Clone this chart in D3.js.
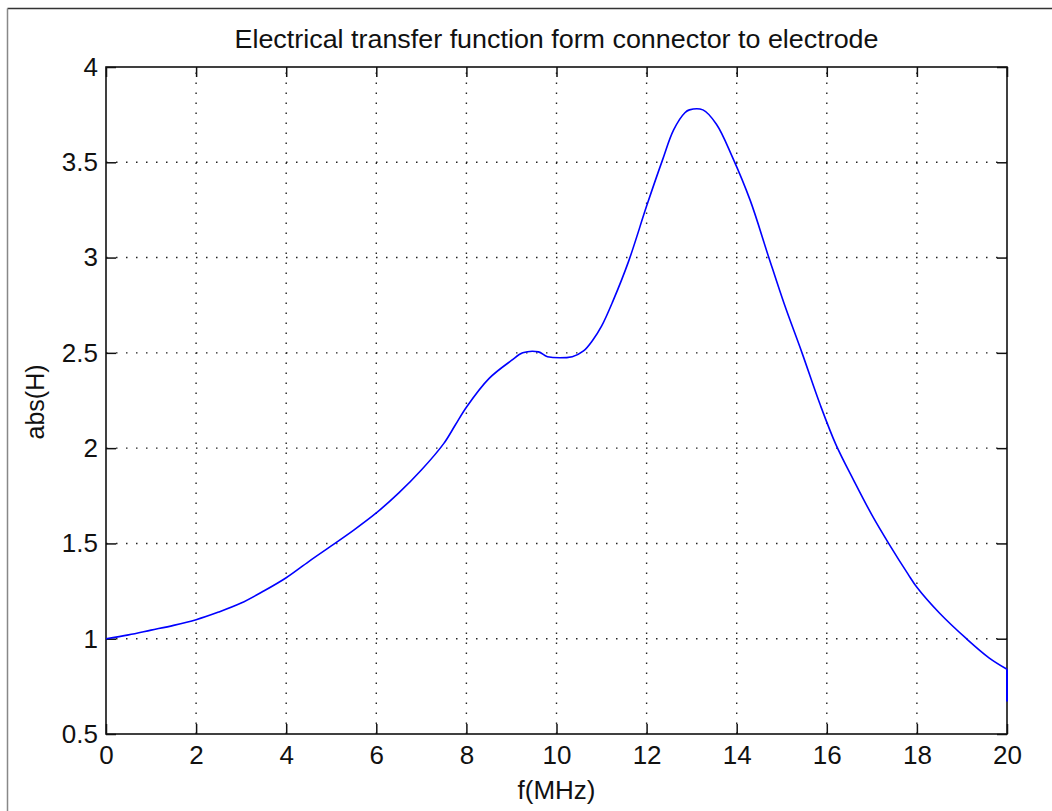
<!DOCTYPE html>
<html>
<head>
<meta charset="utf-8">
<script src="https://cdn.jsdelivr.net/npm/d3@7"></script>
<style>
  html, body { margin: 0; padding: 0; background: #fff; }
  svg { display: block; }
  text { font-family: "Liberation Sans", Arial, Helvetica, sans-serif; fill: #111; }
</style>
</head>
<body>
<svg id="chart" width="1052" height="811"></svg>
<script>
// Frequency sweep (MHz) and magnitude of the transfer function
const freqMHz = [0, 0.5, 1, 1.5, 2, 2.5, 3, 3.5, 4, 4.5, 5, 5.5, 6, 6.5, 7, 7.5, 7.75, 8, 8.5, 9,
  9.25, 9.6, 9.8, 10.35, 10.6, 10.8, 11, 11.25, 11.6, 12, 12.35, 12.6, 12.85, 12.95, 13.25,
  13.55, 13.9, 14.3, 14.7, 15.05, 15.45, 15.85, 16.2, 16.6, 17, 17.4, 17.8, 18, 18.5, 19.1,
  19.6, 20, 20];
const absH = [1.0, 1.02, 1.045, 1.07, 1.10, 1.14, 1.187, 1.25, 1.32, 1.405, 1.487, 1.57, 1.66,
  1.765, 1.885, 2.025, 2.12, 2.215, 2.365, 2.46, 2.50, 2.505, 2.48, 2.48, 2.51, 2.565, 2.64, 2.77, 2.98,
  3.27, 3.51, 3.67, 3.76, 3.775, 3.775, 3.70, 3.53, 3.30, 3.01, 2.76, 2.50, 2.23, 2.02, 1.83,
  1.65, 1.49, 1.34, 1.27, 1.135, 1.0, 0.90, 0.84, 0.67];

const xTicks = [0, 2, 4, 6, 8, 10, 12, 14, 16, 18, 20];
const yTicks = [0.5, 1, 1.5, 2, 2.5, 3, 3.5, 4];

const titleText = "Electrical transfer function form connector to electrode";
const xLabel = "f(MHz)";
const yLabel = "abs(H)";

const svg = d3.select("#chart");
const L = 106, R = 1007, T = 67, B = 734;

const x = d3.scaleLinear().domain([0, 20]).range([L, R]);
const y = d3.scaleLinear().domain([0.5, 4]).range([B, T]);

// figure frame
svg.append("line").attr("x1", 7.5).attr("x2", 1052).attr("y1", 8.5).attr("y2", 8.5)
  .attr("stroke", "#333").attr("stroke-width", 1.5);
svg.append("line").attr("x1", 7.5).attr("x2", 7.5).attr("y1", 8.5).attr("y2", 811)
  .attr("stroke", "#888").attr("stroke-width", 1.5);

// dotted grid
const grid = svg.append("g").attr("stroke", "#222").attr("stroke-width", 1.4)
  .attr("stroke-dasharray", "1.5 8.5");
grid.selectAll("line.vx").data(xTicks.slice(1, -1)).join("line")
  .attr("x1", d => x(d)).attr("x2", d => x(d)).attr("y1", B).attr("y2", T);
grid.selectAll("line.hy").data(yTicks.slice(1, -1)).join("line")
  .attr("x1", L).attr("x2", R).attr("y1", d => y(d)).attr("y2", d => y(d));

// axes with inward ticks on all four sides
const fontPx = 26;
const styleAxis = g => {
  g.select(".domain").remove();
  g.selectAll(".tick line").attr("stroke", "#111").attr("stroke-width", 1.5);
  g.selectAll(".tick text").attr("font-size", fontPx).attr("fill", "#111")
    .style("font-family", "'Liberation Sans', Arial, sans-serif");
};
svg.append("g").attr("transform", `translate(0,${B})`)
  .call(d3.axisBottom(x).tickValues(xTicks).tickSize(-10).tickPadding(11.5).tickFormat(d3.format("d")))
  .call(styleAxis);
svg.append("g").attr("transform", `translate(0,${T})`)
  .call(d3.axisTop(x).tickValues(xTicks).tickSize(-10).tickFormat(""))
  .call(styleAxis);
svg.append("g").attr("transform", `translate(${L},0)`)
  .call(d3.axisLeft(y).tickValues(yTicks).tickSize(-10).tickPadding(8).tickFormat(d => d3.format("")(d)))
  .call(styleAxis);
svg.append("g").attr("transform", `translate(${R},0)`)
  .call(d3.axisRight(y).tickValues(yTicks).tickSize(-10).tickFormat(""))
  .call(styleAxis);

// axes box
svg.append("rect").attr("x", L).attr("y", T).attr("width", R - L).attr("height", B - T)
  .attr("fill", "none").attr("stroke", "#111").attr("stroke-width", 1.6);

// response curve: smooth sweep, then the final straight drop at 20 MHz
const pts = absH.map((v, i) => [freqMHz[i], v]);
const last = pts.length - 1;
const smooth = d3.line()
  .x(d => x(d[0])).y(d => y(d[1]))
  .curve(d3.curveCatmullRom.alpha(0.5));
const straight = d3.line().x(d => x(d[0])).y(d => y(d[1]));
const curve = svg.append("g").attr("fill", "none").attr("stroke", "#0000ff")
  .attr("stroke-width", 1.6).attr("stroke-linejoin", "round");
curve.append("path").attr("d", smooth(pts.slice(0, last)));
curve.append("path").attr("d", straight(pts.slice(last - 1))).attr("stroke-width", 2);

// title and axis labels
svg.append("text").attr("x", (L + R) / 2).attr("y", 48)
  .attr("text-anchor", "middle").attr("font-size", 26)
  .attr("textLength", 644).attr("lengthAdjust", "spacingAndGlyphs")
  .text(titleText);
svg.append("text").attr("x", (L + R) / 2).attr("y", 799)
  .attr("text-anchor", "middle").attr("font-size", 26)
  .text(xLabel);
svg.append("text").attr("transform", "translate(44,402) rotate(-90)")
  .attr("text-anchor", "middle").attr("font-size", 25)
  .text(yLabel);
</script>
</body>
</html>
